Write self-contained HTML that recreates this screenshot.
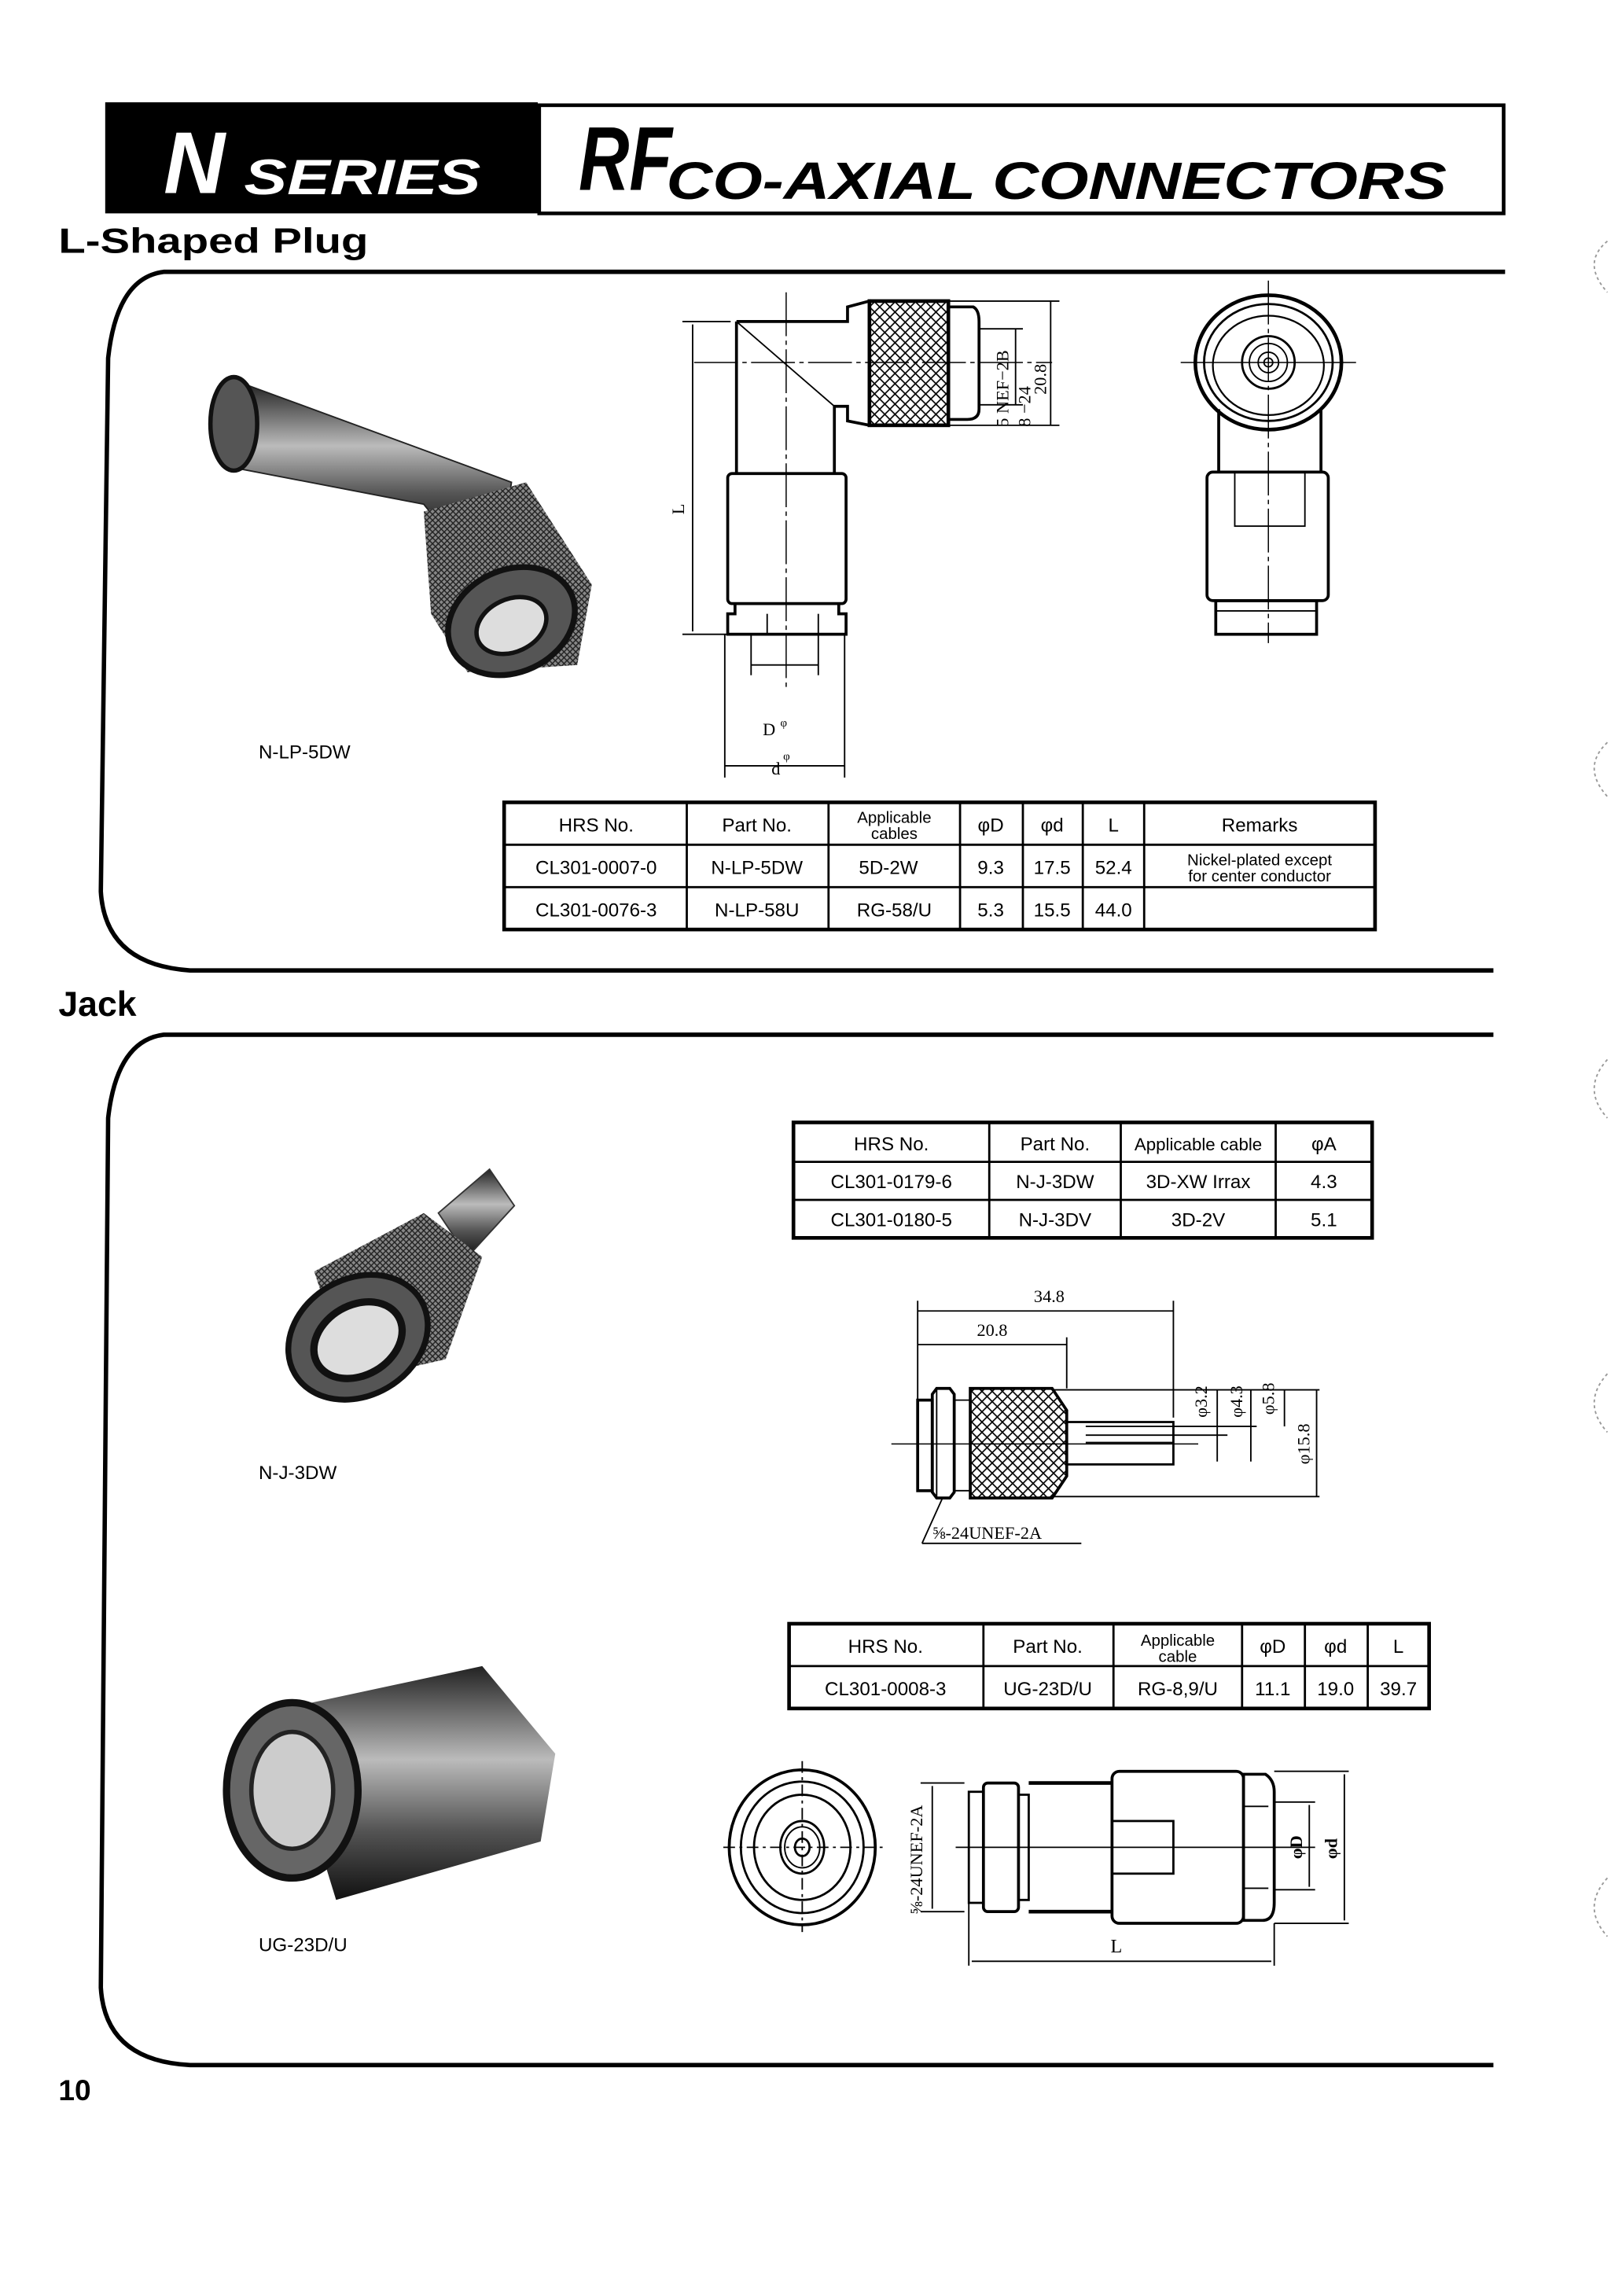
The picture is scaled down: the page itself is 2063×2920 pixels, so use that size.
<!DOCTYPE html>
<html><head><meta charset="utf-8"><style>
html,body{margin:0;padding:0;background:#fff}
svg{display:block}
text{font-family:"Liberation Sans",sans-serif}
.s{font-family:"Liberation Serif",serif}
</style></head><body>
<svg width="2063" height="2920" viewBox="0 0 1110 1571" preserveAspectRatio="none" xmlns="http://www.w3.org/2000/svg">
<defs>
<pattern id="kn" width="7" height="7" patternUnits="userSpaceOnUse"><path d="M0 0L7 7M7 0L0 7" stroke="#000" stroke-width="0.9"/></pattern>
<pattern id="kp" width="4" height="4" patternUnits="userSpaceOnUse"><rect width="4" height="4" fill="#888"/><path d="M0 0L4 4M4 0L0 4" stroke="#222" stroke-width="0.8"/></pattern>
<radialGradient id="ph" cx="40%" cy="40%" r="70%"><stop offset="0" stop-color="#ccc"/><stop offset="0.5" stop-color="#666"/><stop offset="1" stop-color="#111"/></radialGradient>
<linearGradient id="pl" x1="0" y1="0" x2="0" y2="1"><stop offset="0" stop-color="#222"/><stop offset="0.4" stop-color="#bbb"/><stop offset="0.7" stop-color="#555"/><stop offset="1" stop-color="#111"/></linearGradient>
</defs>
<rect width="1110" height="1571" fill="#fff"/>
<!-- header -->
<rect x="72" y="70" width="296" height="76" fill="#000"/>
<rect x="369" y="72" width="660" height="74" fill="none" stroke="#000" stroke-width="2.5"/>
<text x="112" y="132" fill="#fff" font-size="60" font-style="italic" font-weight="bold" textLength="42" lengthAdjust="spacingAndGlyphs">N</text>
<text x="167" y="133" fill="#fff" font-size="34" font-weight="bold" font-style="italic" textLength="162" lengthAdjust="spacingAndGlyphs">SERIES</text>
<text x="396" y="130" font-size="62" font-style="italic" font-weight="bold" textLength="64" lengthAdjust="spacingAndGlyphs">RF</text>
<text x="456" y="136" font-size="36" font-weight="bold" font-style="italic" textLength="534" lengthAdjust="spacingAndGlyphs">CO-AXIAL CONNECTORS</text>
<text x="40" y="173" font-size="24" font-weight="bold" textLength="212" lengthAdjust="spacingAndGlyphs">L-Shaped Plug</text>
<!-- section 1 frame -->
<path d="M1030 186 L112 186 Q80 190 74 245 L69 610 Q72 660 130 664 L1022 664" fill="none" stroke="#000" stroke-width="3"/>
<!-- section 2 frame -->
<text x="40" y="695" font-size="24" font-weight="bold">Jack</text>
<path d="M1022 708 L112 708 Q80 712 74 765 L69 1360 Q72 1410 130 1413 L1022 1413" fill="none" stroke="#000" stroke-width="3"/>
<text x="40" y="1437" font-size="20" font-weight="bold">10</text>

<!-- photo L plug -->
<g>
<path d="M150 285 L165 262 L350 330 L345 365 L310 370 L290 345 L160 320 Z" fill="url(#pl)" stroke="#222"/>
<ellipse cx="160" cy="290" rx="16" ry="32" fill="#555" stroke="#111" stroke-width="3"/>
<path d="M290 350 L360 330 L405 400 L395 455 L320 460 L295 420 Z" fill="url(#kp)"/>
<ellipse cx="350" cy="425" rx="45" ry="35" fill="#555" stroke="#111" stroke-width="4" transform="rotate(-25 350 425)"/>
<ellipse cx="350" cy="428" rx="25" ry="18" fill="#ddd" stroke="#111" stroke-width="3" transform="rotate(-25 350 428)"/>
</g>
<text x="177" y="519" font-size="13">N-LP-5DW</text>

<!-- L drawing -->
<g fill="none" stroke="#000">
<path d="M504 220 L580 220 L580 210 L595 206 L595 291 L580 288 L580 278 L571 278 L571 324" stroke-width="2"/>
<path d="M504 220 L504 324" stroke-width="2"/>
<line x1="504" y1="220" x2="571" y2="278" stroke-width="1"/>
<rect x="595" y="206" width="54" height="85" fill="url(#kn)" stroke-width="2.5"/>
<path d="M649 210 L666 210 Q670 212 670 220 L670 280 Q670 287 662 287 L649 287" stroke-width="2"/>
<rect x="498" y="324" width="81" height="89" rx="3" stroke-width="2"/>
<path d="M503 413 L503 420 L498 420 L498 434 L579 434 L579 420 L574 420 L574 413" stroke-width="2"/>
<line x1="525" y1="420" x2="525" y2="434"/><line x1="560" y1="420" x2="560" y2="434"/>
<line x1="538" y1="200" x2="538" y2="470" stroke-width="0.8" stroke-dasharray="30 3 3 3"/>
<line x1="475" y1="248" x2="720" y2="248" stroke-width="0.8" stroke-dasharray="30 3 3 3"/>
<line x1="467" y1="220" x2="500" y2="220"/><line x1="467" y1="434" x2="500" y2="434"/>
<line x1="474" y1="222" x2="474" y2="432"/>
<line x1="649" y1="206" x2="725" y2="206"/><line x1="649" y1="291" x2="725" y2="291"/>
<line x1="670" y1="225" x2="700" y2="225"/><line x1="670" y1="277" x2="700" y2="277"/>
<line x1="695" y1="225" x2="695" y2="277"/><line x1="719" y1="206" x2="719" y2="291"/>
<line x1="514" y1="434" x2="514" y2="462"/><line x1="560" y1="434" x2="560" y2="462"/>
<line x1="514" y1="455" x2="560" y2="455"/>
<line x1="496" y1="434" x2="496" y2="532"/><line x1="578" y1="434" x2="578" y2="532"/>
<line x1="496" y1="524" x2="578" y2="524"/>
</g>
<text x="468" y="352" font-size="12" class="s" transform="rotate(-90 468 352)">L</text>
<text x="522" y="503" font-size="12" class="s">D</text><text x="534" y="497" font-size="8" class="s">φ</text>
<text x="528" y="530" font-size="12" class="s">d</text><text x="536" y="520" font-size="8" class="s">φ</text>
<text class="s" font-size="12" transform="translate(690 292) rotate(-90)">5 NEF−2B</text>
<text class="s" font-size="12" transform="translate(705 292) rotate(-90)">8  −24</text>
<text class="s" font-size="12" transform="translate(716 270) rotate(-90)">20.8</text>
<!-- right view -->
<g fill="none" stroke="#000">
<ellipse cx="868" cy="248" rx="50" ry="46" stroke-width="2.5"/>
<ellipse cx="868" cy="248" rx="44" ry="40" stroke-width="1.5"/>
<ellipse cx="868" cy="250" rx="38" ry="34" stroke-width="1.2"/>
<circle cx="868" cy="248" r="18" stroke-width="1.5"/>
<circle cx="868" cy="248" r="13" stroke-width="1"/>
<circle cx="868" cy="248" r="7" stroke-width="1"/>
<circle cx="868" cy="248" r="3"/>
<path d="M834 280 L834 323 M904 280 L904 323" stroke-width="2"/>
<rect x="826" y="323" width="83" height="88" rx="4" stroke-width="2"/>
<rect x="845" y="323" width="48" height="37" stroke-width="1"/>
<rect x="832" y="411" width="69" height="23" stroke-width="2"/>
<line x1="832" y1="418" x2="901" y2="418"/>
<line x1="868" y1="192" x2="868" y2="440" stroke-width="0.8" stroke-dasharray="30 3 3 3"/>
<line x1="808" y1="248" x2="928" y2="248" stroke-width="0.8"/>
</g>
<!-- table 1 -->
<g fill="none" stroke="#000" stroke-width="1.5">
<rect x="345" y="549" width="596" height="87" stroke-width="2.5"/>
<line x1="345" y1="578" x2="941" y2="578"/><line x1="345" y1="607" x2="941" y2="607"/>
<line x1="470" y1="549" x2="470" y2="636"/><line x1="567" y1="549" x2="567" y2="636"/>
<line x1="657" y1="549" x2="657" y2="636"/><line x1="700" y1="549" x2="700" y2="636"/>
<line x1="741" y1="549" x2="741" y2="636"/><line x1="783" y1="549" x2="783" y2="636"/>
</g>
<g font-size="13" text-anchor="middle">
<text x="408" y="569">HRS No.</text><text x="518" y="569">Part No.</text>
<text x="612" y="563" font-size="11">Applicable</text><text x="612" y="574" font-size="11">cables</text>
<text x="678" y="569">φD</text><text x="720" y="569">φd</text><text x="762" y="569">L</text><text x="862" y="569">Remarks</text>
<text x="408" y="598">CL301-0007-0</text><text x="518" y="598">N-LP-5DW</text>
<text x="608" y="598">5D-2W</text><text x="678" y="598">9.3</text><text x="720" y="598">17.5</text><text x="762" y="598">52.4</text>
<text x="862" y="592" font-size="11">Nickel-plated except</text><text x="862" y="603" font-size="11">for center conductor</text>
<text x="408" y="627">CL301-0076-3</text><text x="518" y="627">N-LP-58U</text>
<text x="612" y="627">RG-58/U</text><text x="678" y="627">5.3</text><text x="720" y="627">15.5</text><text x="762" y="627">44.0</text>
</g>

<!-- table 2 -->
<g fill="none" stroke="#000" stroke-width="1.5">
<rect x="543" y="768" width="396" height="79" stroke-width="2.5"/>
<line x1="543" y1="795" x2="939" y2="795"/><line x1="543" y1="821" x2="939" y2="821"/>
<line x1="677" y1="768" x2="677" y2="847"/><line x1="767" y1="768" x2="767" y2="847"/><line x1="873" y1="768" x2="873" y2="847"/>
</g>
<g font-size="13" text-anchor="middle">
<text x="610" y="787">HRS No.</text><text x="722" y="787">Part No.</text><text x="820" y="787" font-size="12">Applicable cable</text><text x="906" y="787">φA</text>
<text x="610" y="813">CL301-0179-6</text><text x="722" y="813">N-J-3DW</text><text x="820" y="813">3D-XW Irrax</text><text x="906" y="813">4.3</text>
<text x="610" y="839">CL301-0180-5</text><text x="722" y="839">N-J-3DV</text><text x="820" y="839">3D-2V</text><text x="906" y="839">5.1</text>
</g>

<!-- photo N-J-3DW -->
<g>
<path d="M300 830 L335 800 L352 825 L320 860 Z" fill="url(#pl)" stroke="#333"/>
<path d="M215 870 L290 830 L330 860 L305 930 L240 945 Z" fill="url(#kp)"/>
<ellipse cx="245" cy="915" rx="50" ry="40" fill="#555" stroke="#111" stroke-width="4" transform="rotate(-30 245 915)"/>
<ellipse cx="245" cy="917" rx="32" ry="24" fill="#ddd" stroke="#111" stroke-width="5" transform="rotate(-30 245 917)"/>
</g>
<text x="177" y="1012" font-size="13">N-J-3DW</text>

<!-- jack drawing -->
<g fill="none" stroke="#000">
<rect x="628" y="958" width="10" height="62" stroke-width="2"/>
<path d="M638 954 L641 950 L650 950 L653 954 L653 1021 L650 1025 L641 1025 L638 1021 Z" stroke-width="2"/>
<line x1="641" y1="950" x2="641" y2="1025"/>
<line x1="653" y1="958" x2="664" y2="958"/><line x1="653" y1="1020" x2="664" y2="1020"/>
<path d="M664 950 L720 950 L730 965 L730 1010 L720 1025 L664 1025 Z" fill="url(#kn)" stroke-width="2"/>
<rect x="730" y="973" width="73" height="29" stroke-width="1.5"/>
<path d="M743 976 L803 976 M743 982 L803 982 M743 987 L803 987" stroke-width="1"/>
<line x1="610" y1="988" x2="820" y2="988" stroke-width="0.8"/>
<line x1="628" y1="890" x2="628" y2="960"/><line x1="803" y1="890" x2="803" y2="970"/><line x1="730" y1="915" x2="730" y2="950"/>
<line x1="628" y1="897" x2="803" y2="897"/><line x1="628" y1="920" x2="730" y2="920"/>
<line x1="720" y1="951" x2="903" y2="951"/><line x1="720" y1="1024" x2="903" y2="1024"/>
<line x1="803" y1="976" x2="860" y2="976"/><line x1="803" y1="982" x2="840" y2="982"/>
<line x1="833" y1="951" x2="833" y2="1000"/><line x1="856" y1="951" x2="856" y2="1000"/>
<line x1="879" y1="951" x2="879" y2="976"/><line x1="901" y1="951" x2="901" y2="1024"/>
<path d="M631 1056 L740 1056 M631 1056 L645 1025"/>
</g>
<g class="s" font-size="12">
<text x="718" y="891" text-anchor="middle" class="s">34.8</text>
<text x="679" y="914" text-anchor="middle" class="s">20.8</text>
<text class="s" transform="translate(826 970) rotate(-90)">φ3.2</text>
<text class="s" transform="translate(850 970) rotate(-90)">φ4.3</text>
<text class="s" transform="translate(872 968) rotate(-90)">φ5.8</text>
<text class="s" transform="translate(896 1002) rotate(-90)">φ15.8</text>
<text x="638" y="1053" class="s">⅝-24UNEF-2A</text>
</g>

<!-- table 3 -->
<g fill="none" stroke="#000" stroke-width="1.5">
<rect x="540" y="1111" width="438" height="58" stroke-width="2.5"/>
<line x1="540" y1="1140" x2="978" y2="1140"/>
<line x1="673" y1="1111" x2="673" y2="1169"/><line x1="762" y1="1111" x2="762" y2="1169"/>
<line x1="850" y1="1111" x2="850" y2="1169"/><line x1="893" y1="1111" x2="893" y2="1169"/><line x1="936" y1="1111" x2="936" y2="1169"/>
</g>
<g font-size="13" text-anchor="middle">
<text x="606" y="1131">HRS No.</text><text x="717" y="1131">Part No.</text>
<text x="806" y="1126" font-size="11">Applicable</text><text x="806" y="1137" font-size="11">cable</text>
<text x="871" y="1131">φD</text><text x="914" y="1131">φd</text><text x="957" y="1131">L</text>
<text x="606" y="1160">CL301-0008-3</text><text x="717" y="1160">UG-23D/U</text><text x="806" y="1160">RG-8,9/U</text>
<text x="871" y="1160">11.1</text><text x="914" y="1160">19.0</text><text x="957" y="1160">39.7</text>
</g>

<!-- photo UG-23D/U -->
<g>
<path d="M190 1170 L330 1140 L380 1200 L370 1260 L230 1300 Z" fill="url(#pl)"/>
<ellipse cx="200" cy="1225" rx="45" ry="60" fill="#666" stroke="#111" stroke-width="5"/>
<ellipse cx="200" cy="1225" rx="28" ry="40" fill="#ccc" stroke="#222" stroke-width="3"/>
</g>
<text x="177" y="1335" font-size="13">UG-23D/U</text>

<!-- UG drawing -->
<g fill="none" stroke="#000">
<ellipse cx="549" cy="1264" rx="50" ry="53" stroke-width="2"/>
<ellipse cx="549" cy="1264" rx="42" ry="45" stroke-width="1.5"/>
<ellipse cx="549" cy="1264" rx="33" ry="36" stroke-width="1.5"/>
<ellipse cx="549" cy="1264" rx="15" ry="18" stroke-width="1.5"/>
<ellipse cx="549" cy="1264" rx="12" ry="14" stroke-width="1"/>
<ellipse cx="549" cy="1264" rx="5" ry="6" stroke-width="1.5"/>
<line x1="495" y1="1264" x2="605" y2="1264" stroke-dasharray="8 3 2 3"/>
<line x1="549" y1="1205" x2="549" y2="1322" stroke-dasharray="8 3 2 3"/>
<rect x="663" y="1226" width="10" height="76" stroke-width="1.5"/>
<rect x="673" y="1220" width="24" height="88" rx="3" stroke-width="2"/>
<path d="M697 1228 L704 1228 L704 1300 L697 1300" stroke-width="1.5"/>
<path d="M704 1220 L761 1220 M704 1308 L761 1308" stroke-width="2.5"/>
<rect x="761" y="1212" width="90" height="104" rx="5" stroke-width="2"/>
<rect x="761" y="1246" width="42" height="36" stroke-width="1.5"/>
<path d="M851 1214 L866 1214 Q872 1218 872 1226 L872 1302 Q872 1314 864 1314 L851 1314 Z" stroke-width="2"/>
<path d="M851 1236 L868 1236 M851 1292 L868 1292"/>
<line x1="654" y1="1264" x2="900" y2="1264" stroke-width="1"/>
<line x1="630" y1="1220" x2="660" y2="1220"/><line x1="630" y1="1308" x2="660" y2="1308"/>
<line x1="638" y1="1222" x2="638" y2="1306"/>
<line x1="872" y1="1233" x2="900" y2="1233"/><line x1="872" y1="1293" x2="900" y2="1293"/>
<line x1="896" y1="1235" x2="896" y2="1291"/>
<line x1="872" y1="1212" x2="923" y2="1212"/><line x1="872" y1="1316" x2="923" y2="1316"/>
<line x1="920" y1="1214" x2="920" y2="1314"/>
<line x1="663" y1="1302" x2="663" y2="1345"/><line x1="872" y1="1316" x2="872" y2="1345"/>
<line x1="665" y1="1342" x2="870" y2="1342"/>
</g>
<text x="764" y="1336" class="s" font-size="13" text-anchor="middle">L</text>
<text class="s" font-size="12" transform="translate(631 1310) rotate(-90)">⅝-24UNEF-2A</text>
<text class="s" font-size="12" font-weight="bold" transform="translate(891 1272) rotate(-90)">φD</text>
<text class="s" font-size="12" font-weight="bold" transform="translate(915 1272) rotate(-90)">φd</text>

<!-- punch hole marks -->
<g fill="none" stroke="#999" stroke-width="1" stroke-dasharray="2 2">
<path d="M1100 165 Q1082 180 1100 200"/><path d="M1100 508 Q1082 525 1100 545"/>
<path d="M1100 725 Q1082 745 1100 765"/><path d="M1100 940 Q1082 960 1100 980"/>
<path d="M1100 1285 Q1082 1305 1100 1325"/>
</g>
</svg>
</body></html>
